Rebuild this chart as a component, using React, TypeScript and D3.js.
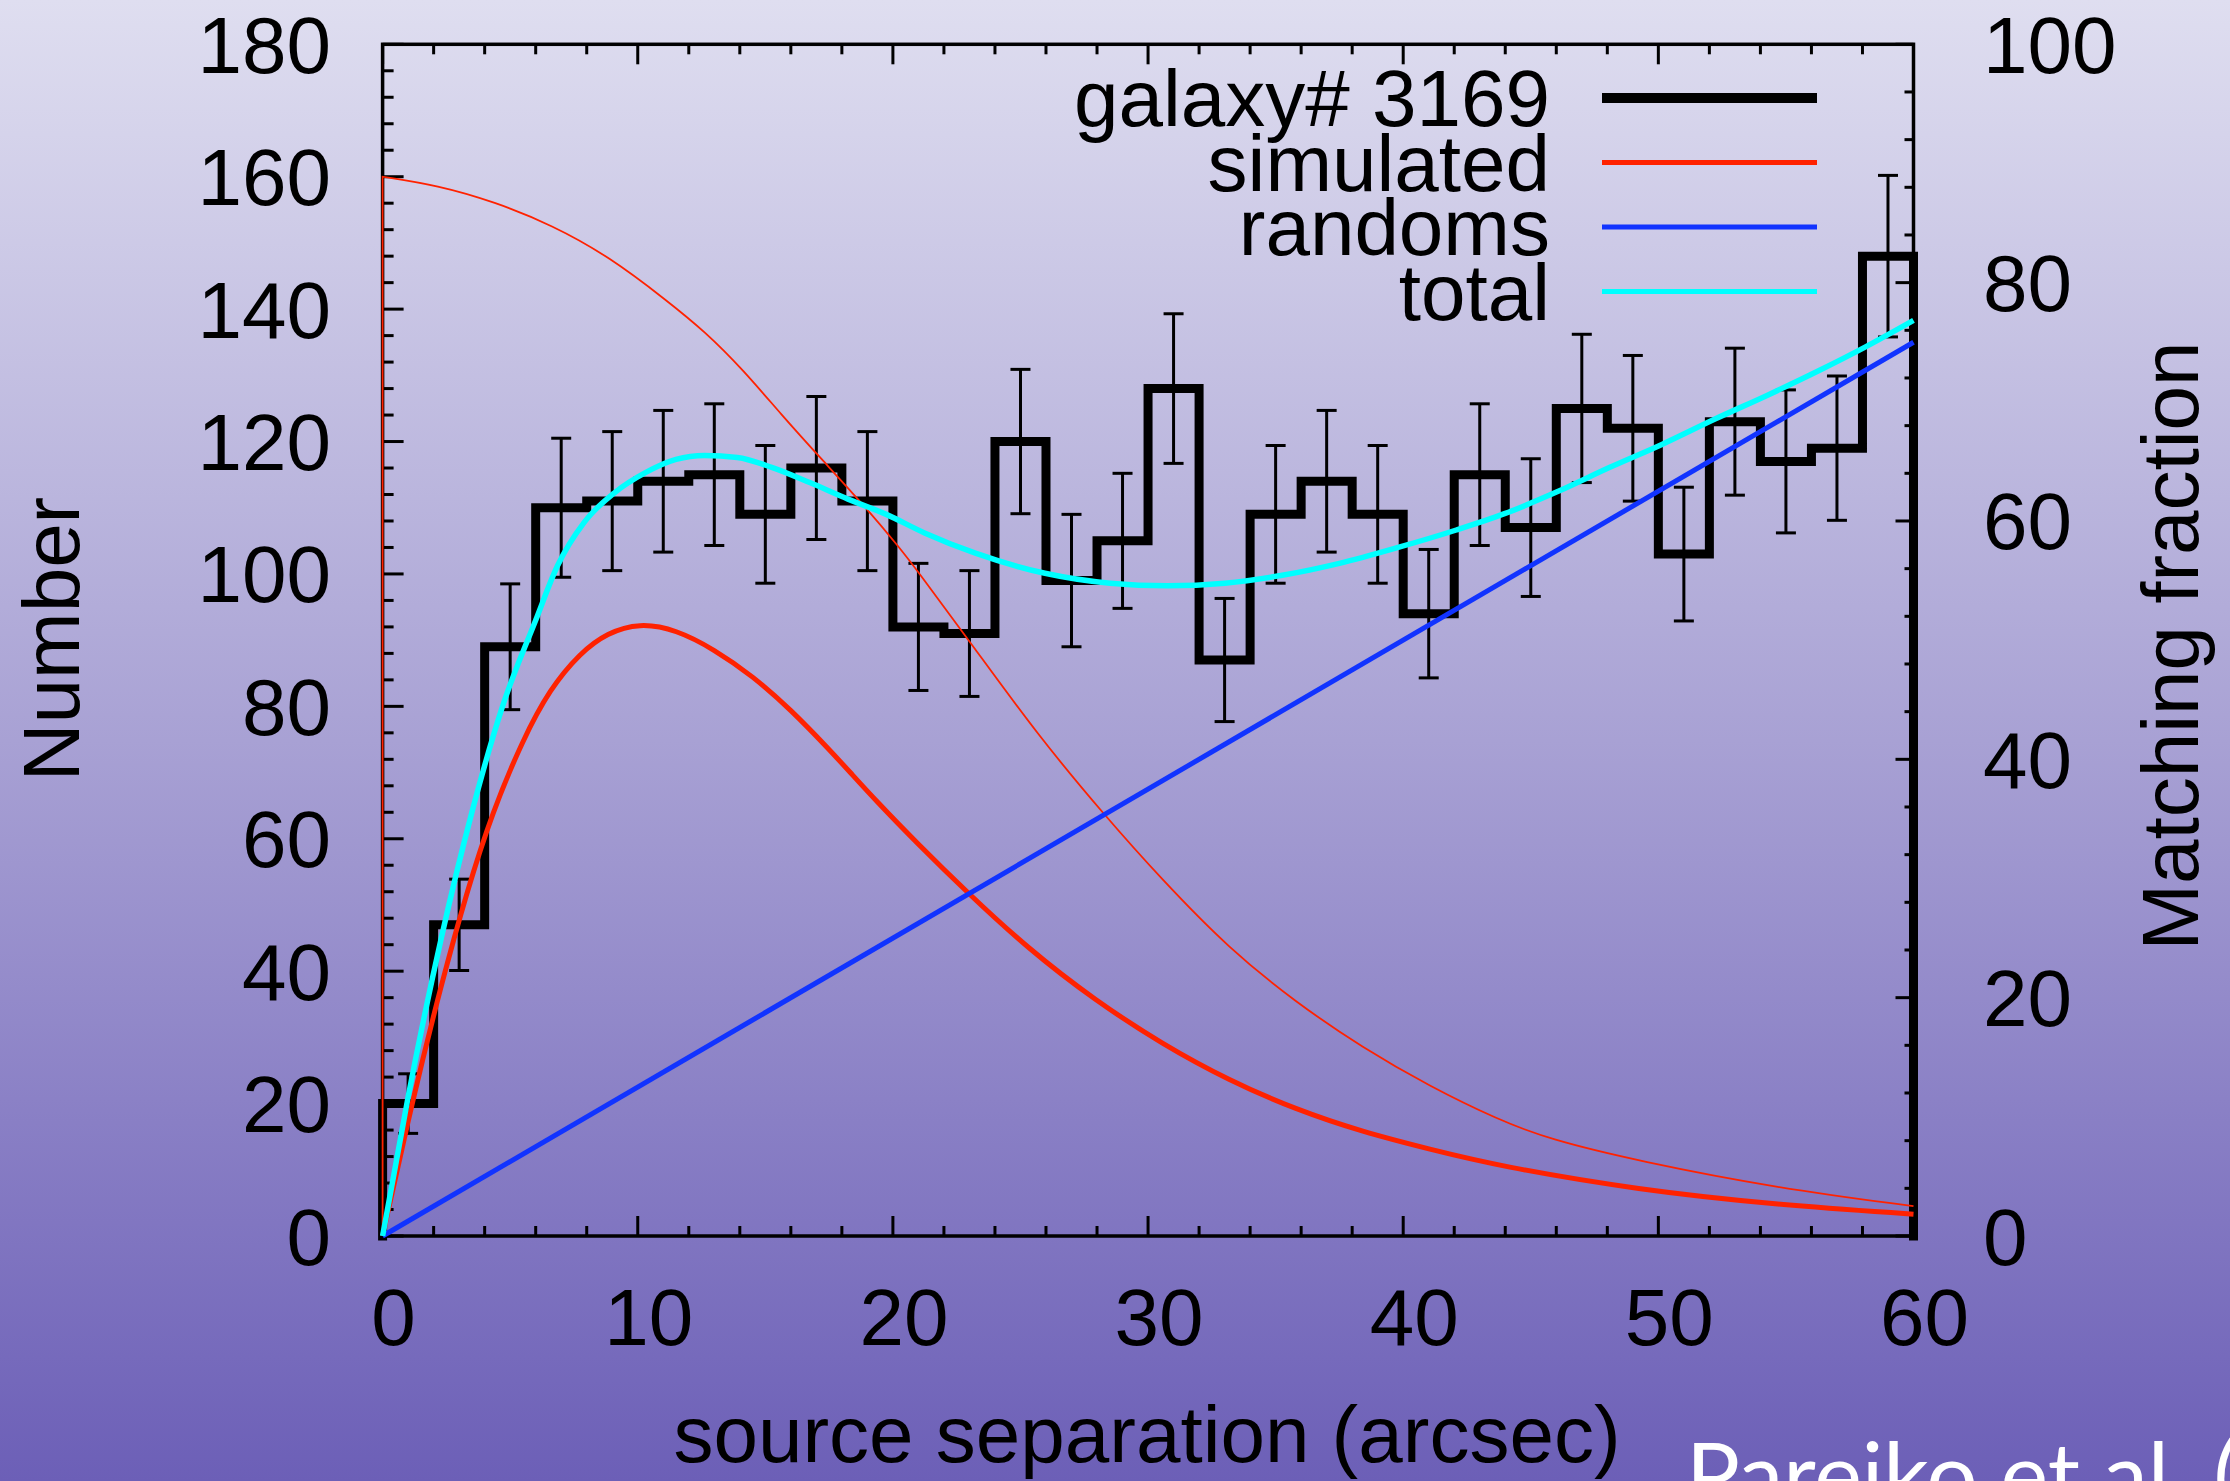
import React from "react";
import * as d3 from "d3";

// ---------------- data ----------------
const binEdges = [0, 2, 4, 6, 8, 10, 12, 14, 16, 18, 20, 22, 24, 26, 28, 30, 32, 34, 36, 38, 40, 42, 44, 46, 48, 50, 52, 54, 56, 58, 60];
const galaxyCounts = [20, 47, 89, 110, 111, 114, 115, 109, 116, 111, 92, 91, 120, 99, 105, 128, 87, 109, 114, 109, 94, 115, 107, 125, 122, 103, 123, 117, 119, 148];
const galaxyErrors = [4.5, 6.9, 9.5, 10.5, 10.5, 10.7, 10.7, 10.4, 10.8, 10.5, 9.6, 9.5, 10.9, 10.0, 10.2, 11.3, 9.3, 10.4, 10.7, 10.4, 9.7, 10.7, 10.4, 11.2, 11.0, 10.1, 11.1, 10.8, 10.9, 12.2];

const simulatedX = [0, 1.2, 2.3, 3.3, 4.3, 5.5, 6.55, 7.75, 8.8, 10.07, 11.5, 13.0, 14.5, 16.0, 17.5, 18.31, 19.3, 20.93, 22.94, 25.3, 27.92, 30.55, 33.17, 35.79, 38.42, 41.04, 43.7, 49.24, 54.71, 60];
const simulatedY = [0, 21, 38, 52, 64, 75, 82.6, 88.1, 91.1, 92.6, 91.6, 88.6, 84.6, 79.5, 73.5, 70.1, 65.9, 59.4, 51.8, 43.4, 35.6, 29.0, 23.5, 19.1, 15.7, 13.1, 10.6, 6.95, 4.7, 3.3];

const simThinX = [0, 0, 2.15, 4.39, 6.64, 8.89, 11.14, 12.64, 14.14, 15.64, 17.14, 19.0, 20.27, 20.9, 23.2, 25.65, 28.28, 30.55, 33.17, 35.79, 38.42, 41.04, 43.7, 45.73, 49.24, 54.71, 60];
const simThinY = [0, 160, 158.7, 156.2, 152.7, 147.9, 141.3, 136.6, 130.8, 124.0, 117.6, 109.8, 103.9, 100.8, 88.8, 75.8, 63.6, 53.8, 43.4, 35.3, 28.4, 22.6, 17.6, 14.6, 11.3, 7.2, 4.5];

const randomsX = [0, 60];
const randomsY = [0, 135];

const totalX = [0, 1.0, 2.3, 3.5, 4.7, 6.0, 6.85, 7.9, 9.1, 10.3, 11.5, 12.62, 13.9, 15.25, 16.74, 18.24, 19.74, 21.24, 23.26, 25.96, 28.51, 30.76, 33.01, 35.26, 37.5, 39.8, 42.05, 43.97, 46.03, 48.1, 50.16, 52.22, 54.28, 56.34, 58.12, 60];
const totalY = [0, 21, 45, 64, 80, 93, 101.2, 107.8, 112.3, 115.3, 117.3, 117.9, 117.6, 116.1, 113.8, 111.3, 109.0, 106.2, 103.1, 100.1, 98.6, 98.2, 98.6, 99.8, 101.6, 104.0, 106.6, 109.1, 112.4, 116.1, 119.6, 123.4, 127.0, 130.8, 134.3, 138.3];

const xTicks = [0, 10, 20, 30, 40, 50, 60];
const yTicks = [0, 20, 40, 60, 80, 100, 120, 140, 160, 180];
const y2Ticks = [0, 20, 40, 60, 80, 100];

const legendLabels = ["galaxy# 3169", "simulated", "randoms", "total"];
const legendColors = ["#000000", "#ff2200", "#1133ff", "#00ffff"];
const legendWidths = [10, 5, 5, 5];

// ---------------- layout ----------------
const W = 2230;
const H = 1481;
const L = 382.6, R = 1913.5, T = 44.3, B = 1236;
const FONT = "'Liberation Sans', Arial, Helvetica, sans-serif";

export default function App() {
  React.useEffect(() => {
    document.body.style.margin = "0";
    document.body.style.overflow = "hidden";
  }, []);

  const x = d3.scaleLinear().domain([0, 60]).range([L, R]);
  const y = d3.scaleLinear().domain([0, 180]).range([B, T]);
  const y2 = d3.scaleLinear().domain([0, 100]).range([B, T]);

  const zip = (xs: number[], ys: number[]) => xs.map((v, i) => [v, ys[i]] as [number, number]);

  const basis = d3
    .line<[number, number]>()
    .x((d) => x(d[0]))
    .y((d) => y(d[1]))
    .curve(d3.curveBasis);
  const smooth = d3
    .line<[number, number]>()
    .x((d) => x(d[0]))
    .y((d) => y(d[1]))
    .curve(d3.curveMonotoneX);
  const straight = d3
    .line<[number, number]>()
    .x((d) => x(d[0]))
    .y((d) => y(d[1]));

  // histogram steps
  const histPts: [number, number][] = [[0, 0]];
  galaxyCounts.forEach((c, i) => histPts.push([binEdges[i], c]));
  histPts.push([binEdges[binEdges.length - 1], galaxyCounts[galaxyCounts.length - 1]]);
  histPts.push([binEdges[binEdges.length - 1], 0]);
  const histPath = d3
    .line<[number, number]>()
    .x((d) => x(d[0]))
    .y((d) => y(d[1]))
    .curve(d3.curveStepAfter)(histPts) as string;

  // thin simulated curve: vertical jump at 0 then smooth
  const thinPts = zip(simThinX, simThinY);
  const thinHead = straight(thinPts.slice(0, 2)) as string;
  const thinTail = basis(thinPts.slice(1)) as string;
  const thinPath = thinHead + "L" + thinTail.slice(1);

  const simPath = basis(zip(simulatedX, simulatedY)) as string;
  const randPath = straight(zip(randomsX, randomsY)) as string;
  const totalPath = smooth(zip(totalX, totalY)) as string;

  // ticks
  const xMinor = d3.range(0, 60.001, 2);
  const yMinor = d3.range(0, 180.001, 4);
  const y2Minor = d3.range(0, 100.001, 4);
  const isMajorX = (v: number) => Math.abs(v % 10) < 1e-6;
  const isMajorY = (v: number) => Math.abs(v % 20) < 1e-6;

  const tickStroke = 3;
  const legendTextX = 1550;
  const legendLineX1 = 1602;
  const legendLineX2 = 1817;
  const legendRowY = [98, 162.5, 227, 291.5];

  return (
    <svg
      width={W}
      height={H}
      viewBox={`0 0 ${W} ${H}`}
      style={{ position: "absolute", left: 0, top: 0, display: "block" }}
      fontFamily={FONT}
    >
      <defs>
        <linearGradient id="bg" x1="0" y1="0" x2="0" y2="1">
          <stop offset="0" stopColor="#dfdef0" />
          <stop offset="0.5" stopColor="#a8a1d4" />
          <stop offset="1" stopColor="#6c5fb7" />
        </linearGradient>
      </defs>
      <rect x={0} y={0} width={W} height={H} fill="url(#bg)" />

      {/* ticks bottom/top */}
      {xMinor.map((v) => {
        const len = isMajorX(v) ? 20 : 10;
        return (
          <g key={"xt" + v} stroke="#000" strokeWidth={tickStroke}>
            <line x1={x(v)} x2={x(v)} y1={B} y2={B - len} />
            <line x1={x(v)} x2={x(v)} y1={T} y2={T + len} />
          </g>
        );
      })}
      {/* left ticks */}
      {yMinor.map((v) => {
        const len = isMajorY(v) ? 21 : 11;
        return <line key={"yt" + v} x1={L} x2={L + len} y1={y(v)} y2={y(v)} stroke="#000" strokeWidth={tickStroke} />;
      })}
      {/* right ticks */}
      {y2Minor.map((v) => {
        const len = isMajorY(v) ? 18 : 9;
        return <line key={"y2t" + v} x1={R} x2={R - len} y1={y2(v)} y2={y2(v)} stroke="#000" strokeWidth={tickStroke} />;
      })}

      {/* frame */}
      <rect x={L} y={T} width={R - L} height={B - T} fill="none" stroke="#000" strokeWidth={3.5} />

      {/* histogram */}
      <path d={histPath} fill="none" stroke="#000" strokeWidth={9} strokeLinejoin="miter" strokeLinecap="square" />

      {/* error bars */}
      {galaxyCounts.map((c, i) => {
        const cx = x((binEdges[i] + binEdges[i + 1]) / 2);
        const e = galaxyErrors[i];
        const yt = y(c + e);
        const yb = y(c - e);
        return (
          <g key={"eb" + i} stroke="#000" strokeWidth={3}>
            <line x1={cx} x2={cx} y1={yt} y2={yb} />
            <line x1={cx - 10} x2={cx + 10} y1={yt} y2={yt} />
            <line x1={cx - 10} x2={cx + 10} y1={yb} y2={yb} />
          </g>
        );
      })}

      {/* curves */}
      <path d={thinPath} fill="none" stroke="#ff2200" strokeWidth={1.8} />
      <path d={simPath} fill="none" stroke="#ff2200" strokeWidth={5} />
      <path d={randPath} fill="none" stroke="#1133ff" strokeWidth={5} />
      <path d={totalPath} fill="none" stroke="#00ffff" strokeWidth={5.5} />

      {/* tick labels */}
      {xTicks.map((v) => (
        <text key={"xl" + v} x={x(v) + 11} y={1345} fontSize={80} textAnchor="middle" fill="#000">
          {v}
        </text>
      ))}
      {yTicks.map((v) => (
        <text key={"yl" + v} x={331} y={y(v) + 28.5} fontSize={80} textAnchor="end" fill="#000">
          {v}
        </text>
      ))}
      {y2Ticks.map((v) => (
        <text key={"y2l" + v} x={1983} y={y2(v) + 28.5} fontSize={80} textAnchor="start" fill="#000">
          {v}
        </text>
      ))}

      {/* axis titles */}
      <text x={1147} y={1462} fontSize={80} textAnchor="middle" fill="#000">
        source separation (arcsec)
      </text>
      <text transform={`translate(79,639) rotate(-90)`} fontSize={80} textAnchor="middle" fill="#000">
        Number
      </text>
      <text transform={`translate(2198,646) rotate(-90)`} fontSize={80} textAnchor="middle" fill="#000">
        Matching fraction
      </text>

      {/* legend */}
      {legendLabels.map((lab, i) => (
        <g key={"lg" + i}>
          <text x={legendTextX} y={legendRowY[i] + 28} fontSize={80} textAnchor="end" fill="#000">
            {lab}
          </text>
          <line
            x1={legendLineX1}
            x2={legendLineX2}
            y1={legendRowY[i]}
            y2={legendRowY[i]}
            stroke={legendColors[i]}
            strokeWidth={legendWidths[i]}
          />
        </g>
      ))}

      {/* citation (cut off at bottom edge) */}
      <text x={1686} y={1507} fontSize={90} fill="#ffffff" fontFamily="Lato, 'Open Sans', sans-serif">
        Parejko et al. (2008)
      </text>
    </svg>
  );
}
